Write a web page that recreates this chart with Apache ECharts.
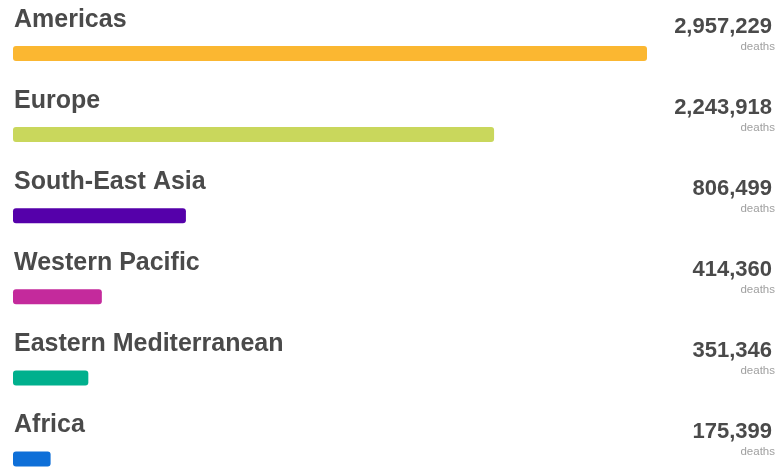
<!DOCTYPE html>
<html>
<head>
<meta charset="utf-8">
<script src="https://cdn.jsdelivr.net/npm/echarts@6/dist/echarts.min.js"></script>
<style>
  html, body { margin: 0; padding: 0; background: #fff; }
  #chart1 { width: 780px; height: 469px; }
</style>
</head>
<body>
<div id="chart1"></div>
<script>
var regions = ['Americas', 'Europe', 'South-East Asia', 'Western Pacific', 'Eastern Mediterranean', 'Africa'];
var deaths = [2957229, 2243918, 806499, 414360, 351346, 175399];
var colors = ['#fbb731', '#c9d75c', '#5500aa', '#c42a9c', '#00b08d', '#0e6fd8'];
var unitLabel = 'deaths';

var textColor = '#4a4a4a';
var fontFamily = '"Liberation Sans", Arial, sans-serif';

var barOption = {
    animation: false,
    grid: {
        left: 13,
        right: 133,
        top: 53.5,
        bottom: 10
    },
    xAxis: {
        type: 'value',
        min: 0,
        max: deaths[0],
        show: false
    },
    yAxis: [{
        type: 'category',
        inverse: true,
        boundaryGap: false,
        data: regions,
        axisLine: { show: false },
        axisTick: { show: false },
        axisLabel: { show: false }
    }, {
        type: 'category',
        inverse: true,
        boundaryGap: false,
        position: 'right',
        data: regions,
        axisLine: { show: false },
        axisTick: { show: false },
        axisLabel: {
            margin: 128,
            align: 'right',
            padding: [0, 0, 38, 0],
            formatter: function(v, i) {
                return '{v|' + deaths[i].toLocaleString('en-US') + '}\n{d|' + unitLabel + '}';
            },
            rich: {
                v: { fontFamily: fontFamily, fontWeight: 'bold', fontSize: 22, color: textColor, lineHeight: 24, align: 'right', padding: [0, 3, 0, 0] },
                d: { fontFamily: fontFamily, fontSize: 11.5, color: '#a0a0a0', lineHeight: 16, align: 'right' }
            }
        }
    }],
    series: [{
        type: 'bar',
        barWidth: 15,
        data: deaths.map(function(v, i) {
            return { value: v, itemStyle: { color: colors[i], borderRadius: 3 } };
        }),
        label: {
            show: true,
            position: [1, -39],
            formatter: '{b}',
            fontFamily: fontFamily,
            fontWeight: 'bold',
            fontSize: 25,
            lineHeight: 26,
            color: textColor
        }
    }]
};
var chart1 = echarts.init(document.getElementById('chart1'));
chart1.setOption(barOption);
</script>
</body>
</html>
